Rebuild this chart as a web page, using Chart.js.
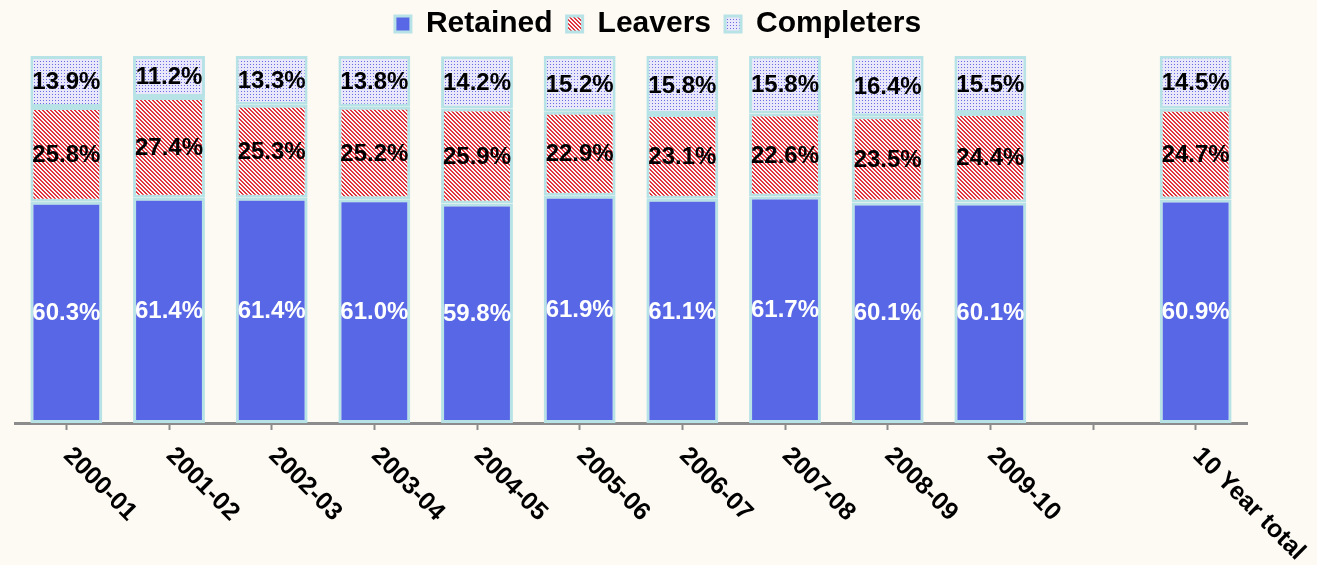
<!DOCTYPE html>
<html>
<head>
<meta charset="utf-8">
<script src="https://cdn.jsdelivr.net/npm/chart.js@4.4.1/dist/chart.umd.min.js"></script>
<style>
  html, body { margin: 0; padding: 0; background: #fdfaf4; }
  #wrap { width: 1317px; height: 565px; }
</style>
</head>
<body>
<div id="wrap"><canvas id="retentionChart"></canvas></div>
<script>
// data
const categories = ["2000-01", "2001-02", "2002-03", "2003-04", "2004-05", "2005-06",
  "2006-07", "2007-08", "2008-09", "2009-10", "", "10 Year total"];
const retained   = [60.3, 61.4, 61.4, 61.0, 59.8, 61.9, 61.1, 61.7, 60.1, 60.1, null, 60.9];
const leavers    = [25.8, 27.4, 25.3, 25.2, 25.9, 22.9, 23.1, 22.6, 23.5, 24.4, null, 24.7];
const completers = [13.9, 11.2, 13.3, 13.8, 14.2, 15.2, 15.8, 15.8, 16.4, 15.5, null, 14.5];

const FONT = "'Liberation Sans', Arial, sans-serif";
const BORDER = "#b7e2e6";

// hatch patterns
function makePattern(size, bg, draw) {
  const c = document.createElement("canvas");
  c.width = size; c.height = size;
  const g = c.getContext("2d");
  g.fillStyle = bg;
  g.fillRect(0, 0, size, size);
  draw(g);
  return g.createPattern(c, "repeat");
}
const ctx = document.getElementById("retentionChart").getContext("2d");
const leaverFill = makePattern(4, "#fdf6f6", g => {
  g.fillStyle = "#e0343e";
  for (let i = 0; i < 4; i++) {
    g.fillRect(i, i, 1, 1);
    g.fillRect((i + 1) % 4, i, 1, 1);
  }
});
const completerFill = makePattern(3, "#e8e8fa", g => {
  g.fillStyle = "#6a6ae4";
  g.fillRect(1, 1, 1, 1);
});

// labels in the middle of each segment
const segmentLabels = {
  id: "segmentLabels",
  afterDatasetsDraw(chart) {
    const c = chart.ctx;
    c.save();
    c.font = "bold 24px " + FONT;
    c.textAlign = "center";
    c.textBaseline = "middle";
    chart.data.datasets.forEach((ds, di) => {
      chart.getDatasetMeta(di).data.forEach((bar, i) => {
        const v = ds.data[i];
        if (v == null) return;
        const p = bar.getProps(["x", "y", "base"], true);
        c.fillStyle = di === 0 ? "#ffffff" : "#000000";
        c.fillText(v.toFixed(1) + "%", p.x, (p.y + p.base) / 2 + 1);
      });
    });
    c.restore();
  }
};

// x labels slanting down to the right
const slantedTicks = {
  id: "slantedTicks",
  afterDraw(chart) {
    const x = chart.scales.x;
    const c = chart.ctx;
    c.save();
    c.font = "bold 25px " + FONT;
    c.fillStyle = "#000";
    c.textAlign = "left";
    c.textBaseline = "middle";
    categories.forEach((lab, i) => {
      if (!lab) return;
      c.save();
      c.translate(x.getPixelForTick(i) + 1, x.top + 29);
      c.rotate(Math.PI / 4);
      c.fillText(lab, 0, 0);
      c.restore();
    });
    c.restore();
  }
};

// a little room under the legend, and legend centred on the page
const legendTweak = {
  id: "legendTweak",
  beforeInit(chart) {
    const fit = chart.legend.fit;
    chart.legend.fit = function () {
      fit.bind(chart.legend)();
      this.height += 7;
    };
  },
  afterLayout(chart) {
    chart.legend.left += 27;
    chart.legend.right += 27;
  }
};

new Chart(ctx, {
  type: "bar",
  data: {
    labels: categories,
    datasets: [
      { label: "Retained", data: retained, backgroundColor: "#5767e6" },
      { label: "Leavers", data: leavers, backgroundColor: leaverFill },
      { label: "Completers", data: completers, backgroundColor: completerFill }
    ].map(d => Object.assign(d, {
      borderColor: BORDER,
      borderWidth: 3,
      borderSkipped: false,
      barPercentage: 0.7,
      categoryPercentage: 1.0
    }))
  },
  options: {
    responsive: true,
    maintainAspectRatio: false,
    animation: false,
    layout: { padding: { left: 15, right: 70, top: -5, bottom: 135 } },
    scales: {
      x: {
        stacked: true,
        grid: { drawOnChartArea: false, offset: false, tickLength: 7, tickWidth: 2, tickColor: "#8c8c8c" },
        border: { color: "#8c8c8c", width: 3 },
        ticks: { display: false }
      },
      y: {
        stacked: true,
        display: false,
        min: 0,
        max: 100
      }
    },
    plugins: {
      legend: {
        position: "top",
        labels: {
          font: { family: FONT, size: 30, weight: "bold" },
          color: "#000",
          boxWidth: 16,
          boxHeight: 16,
          padding: 14
        }
      },
      tooltip: { enabled: false }
    }
  },
  plugins: [segmentLabels, slantedTicks, legendTweak]
});
</script>
</body>
</html>
